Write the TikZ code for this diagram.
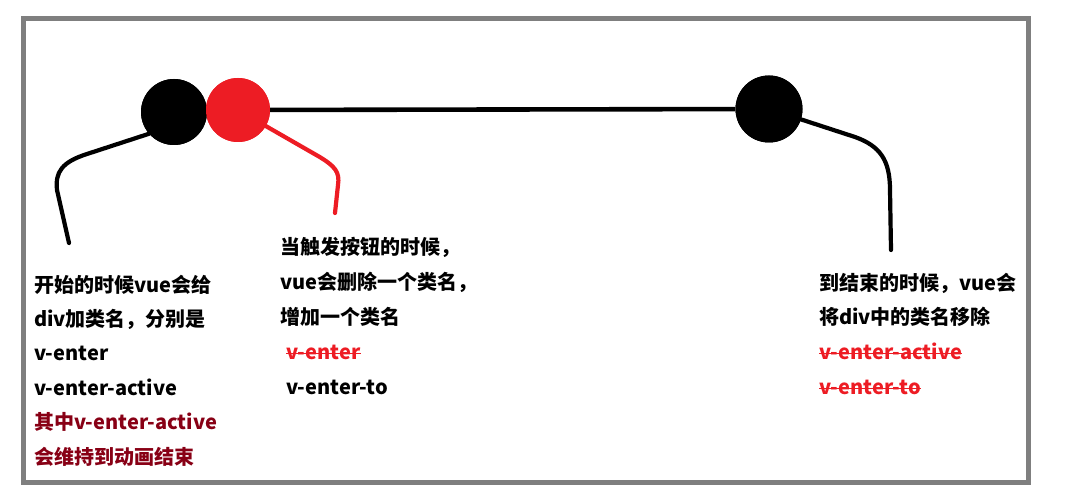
\documentclass[tikz,border=0pt]{standalone}
\usepackage{fontspec}
\newfontfamily\cjk{Noto Sans CJK SC}
\definecolor{framegray}{HTML}{7F7F7F}
\definecolor{pred}{HTML}{ED1C24}
\definecolor{dred}{HTML}{880015}
\begin{document}
\begin{tikzpicture}[x=1pt,y=-1pt,
  dot/.style={circle, inner sep=0pt, minimum size=#1},
  lead/.style={line width=4.2pt, line cap=round, line join=round},
  txt/.style={anchor=west, inner sep=0pt, text height=17.4pt, text depth=2.6pt,
    font=\cjk\bfseries\fontsize{20}{24}\selectfont},
  strike/.style={line width=1.6pt, pred}]
\useasboundingbox (0,0) rectangle (1071,500);
\draw[framegray, line width=5pt] (23.5,18.5) rectangle (1028.5,482.5);
% dots
\node[dot=66pt, fill=black] (b1) at (174,112) {};
\node[dot=64pt, fill=pred] (r1) at (238,110) {};
\node[dot=67pt, fill=black] (b2) at (769,109) {};
\coordinate (e1) at (69,243);
\coordinate (e2) at (335,213);
\coordinate (e3) at (891,250);
% leaders
\draw[lead] (b1.-139) -- (87,154) .. controls (62,162) and (55,172) .. (57,190) -- (e1);
\draw[lead, pred] (r1.-30) -- (318,156) .. controls (335,166) and (340,172) .. (338,185) -- (e2);
\draw[lead] (b2.-18) -- (855,137) .. controls (880,146) and (890,160) .. (890,190) -- (e3);
\draw[line width=4.6pt] (r1) -- (b2);
\node[dot=66pt, fill=black] at (b1) {};
\node[dot=64pt, fill=pred] at (r1) {};
\node[dot=67pt, fill=black] at (b2) {};
% left text
\node[txt] (l1) at (34,285) {开始的时候vue会给};
\node[txt] (l2) at (34,319) {div加类名，分别是};
\node[txt] (l3) at (34,353) {v-enter};
\node[txt] (l4) at (34,388) {v-enter-active};
\node[txt, dred] (l5) at (34,422) {其中v-enter-active};
\node[txt, dred] (l6) at (34,457) {会维持到动画结束};
% middle text
\node[txt] (m1) at (280,247) {当触发按钮的时候，};
\node[txt] (m2) at (280,282) {vue会删除一个类名，};
\node[txt] (m3) at (280,317) {增加一个类名};
\node[txt, pred] (m4) at (286,352) {v-enter};
\node[txt] (m5) at (286,387) {v-enter-to};
\draw[strike] ([yshift=-1.5pt]m4.west) -- ([yshift=-1.5pt]m4.east);
% right text
\node[txt] (r1t) at (819,283) {到结束的时候，vue会};
\node[txt] (r2t) at (819,317) {将div中的类名移除};
\node[txt, pred] (r3t) at (819,352) {v-enter-active};
\node[txt, pred] (r4t) at (819,387) {v-enter-to};
\draw[strike] ([yshift=-1.5pt]r3t.west) -- ([yshift=-1.5pt]r3t.east);
\draw[strike] ([yshift=-1.5pt]r4t.west) -- ([yshift=-1.5pt]r4t.east);
\end{tikzpicture}
\end{document}
